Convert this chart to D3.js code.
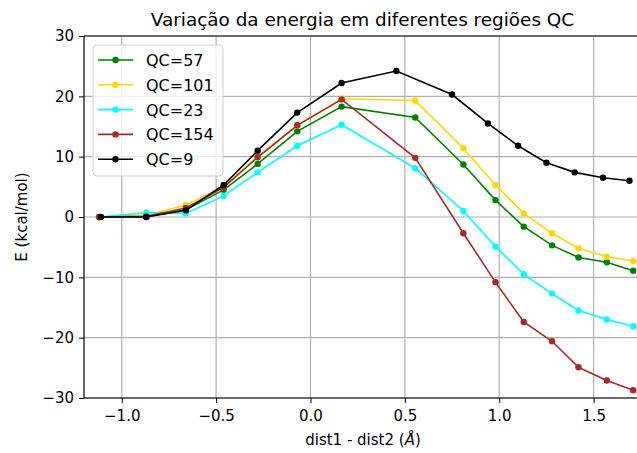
<!DOCTYPE html>
<html>
<head>
    <meta charset="utf-8">
    <script src="https://cdn.jsdelivr.net/npm/d3@7"></script>
    <style>
        body { margin: 0; background: #fff; }
        svg { font-family: "DejaVu Sans", sans-serif; }
    </style>
</head>
<body>
    <svg width="637" height="453"></svg>
    <script>
        // x positions (dist1 - dist2)
        const xMain = [-1.12, -0.87, -0.66, -0.46, -0.28, -0.07, 0.165, 0.555, 0.81, 0.98, 1.13, 1.28, 1.42, 1.57, 1.71]
        const xQC9 = [-1.11, -0.87, -0.66, -0.46, -0.28, -0.07, 0.165, 0.455, 0.75, 0.94, 1.10, 1.25, 1.40, 1.55, 1.69]

        const qc57 = [0, 0.1, 1.2, 4.5, 8.8, 14.2, 18.3, 16.5, 8.7, 2.8, -1.6, -4.7, -6.7, -7.5, -8.9]
        const qc101 = [0, 0.3, 2.0, 5.0, 10.0, 15.2, 19.6, 19.3, 11.4, 5.3, 0.6, -2.7, -5.2, -6.6, -7.3]
        const qc23 = [0, 0.7, 0.6, 3.5, 7.4, 11.8, 15.3, 8.1, 1.0, -4.9, -9.5, -12.7, -15.5, -17.0, -18.1]
        const qc154 = [0, 0.1, 1.5, 4.9, 9.9, 15.2, 19.5, 9.8, -2.7, -10.8, -17.4, -20.6, -24.9, -27.1, -28.7]
        const qc9 = [0, 0, 1.1, 5.3, 11.0, 17.3, 22.2, 24.2, 20.3, 15.5, 11.8, 9.0, 7.4, 6.5, 6.0]

        const labels = ['QC=57', 'QC=101', 'QC=23', 'QC=154', 'QC=9']
        const colors = ['green', 'gold', 'cyan', 'brown', 'black']
        const xTicks = [-1.0, -0.5, 0.0, 0.5, 1.0, 1.5]
        const yTicks = [-30, -20, -10, 0, 10, 20, 30]

        const series = [
            { name: labels[0], xs: xMain, ys: qc57, color: colors[0] },
            { name: labels[1], xs: xMain, ys: qc101, color: colors[1] },
            { name: labels[2], xs: xMain, ys: qc23, color: colors[2] },
            { name: labels[3], xs: xMain, ys: qc154, color: colors[3] },
            { name: labels[4], xs: xQC9, ys: qc9, color: colors[4] }
        ]

        const svg = d3.select('svg')
        const margin = { left: 84, top: 36, right: 0, bottom: 55 }
        const W = 637, H = 453
        const x = d3.scaleLinear().domain([-1.2, 1.73]).range([margin.left, W - margin.right])
        const y = d3.scaleLinear().domain([-30, 30]).range([H - margin.bottom, margin.top])

        const fmtMinus = s => s.replace('-', '\u2212')

        // grid
        svg.append('g').selectAll('line').data(xTicks).join('line')
            .attr('x1', d => x(d)).attr('x2', d => x(d))
            .attr('y1', y(-30)).attr('y2', y(30))
            .attr('stroke', '#b0b0b0').attr('stroke-width', 1.2)
        svg.append('g').selectAll('line').data(yTicks).join('line')
            .attr('x1', x.range()[0]).attr('x2', x.range()[1])
            .attr('y1', d => y(d)).attr('y2', d => y(d))
            .attr('stroke', '#b0b0b0').attr('stroke-width', 1.2)

        // clip
        svg.append('clipPath').attr('id', 'clip').append('rect')
            .attr('x', x.range()[0]).attr('y', y(30))
            .attr('width', x.range()[1] - x.range()[0]).attr('height', y(-30) - y(30))

        const plot = svg.append('g').attr('clip-path', 'url(#clip)')
        const line = d3.line().x(d => x(d[0])).y(d => y(d[1]))

        series.forEach(s => {
            const pts = s.xs.map((v, i) => [v, s.ys[i]])
            plot.append('path').datum(pts)
                .attr('d', line)
                .attr('fill', 'none')
                .attr('stroke', s.color)
                .attr('stroke-width', 1.6)
            plot.append('g').selectAll('circle').data(pts).join('circle')
                .attr('cx', d => x(d[0])).attr('cy', d => y(d[1]))
                .attr('r', 3.2).attr('fill', s.color)
        })

        // axes
        const xAxis = svg.append('g').attr('transform', `translate(0,${y(-30)})`)
            .call(d3.axisBottom(x).tickValues(xTicks).tickSize(5).tickPadding(7).tickFormat(d => fmtMinus(d3.format('.1f')(d))))
        const yAxis = svg.append('g').attr('transform', `translate(${x(-1.2)},0)`)
            .call(d3.axisLeft(y).tickValues(yTicks).tickSize(5).tickPadding(5).tickFormat(d => fmtMinus(String(d))))
        ;[xAxis, yAxis].forEach(a => {
            a.select('.domain').remove()
            a.selectAll('text').attr('font-size', 15).attr('fill', '#000').attr('font-family', 'DejaVu Sans')
            a.selectAll('line').attr('stroke', '#000').attr('stroke-width', 1)
        })

        // spines (left, bottom, top)
        svg.append('line').attr('x1', x(-1.2)).attr('x2', x(-1.2)).attr('y1', y(30)).attr('y2', y(-30))
            .attr('stroke', '#000').attr('stroke-width', 1.2)
        svg.append('line').attr('x1', x(-1.2)).attr('x2', W).attr('y1', y(-30)).attr('y2', y(-30))
            .attr('stroke', '#000').attr('stroke-width', 1.2)
        svg.append('line').attr('x1', x(-1.2)).attr('x2', W).attr('y1', y(30)).attr('y2', y(30))
            .attr('stroke', '#000').attr('stroke-width', 1.2)

        // title and labels
        svg.append('text').attr('x', 362.5).attr('y', 26).attr('text-anchor', 'middle')
            .attr('font-size', 18.4).text('Variação da energia em diferentes regiões QC')
        svg.append('text').attr('x', 363).attr('y', 445).attr('text-anchor', 'middle')
            .attr('font-size', 15)
            .html('dist1 - dist2 (<tspan font-style="italic">Å</tspan>)')
        svg.append('text').attr('transform', 'translate(27,217) rotate(-90)').attr('text-anchor', 'middle')
            .attr('font-size', 15).text('E (kcal/mol)')

        // legend
        const lg = svg.append('g').attr('transform', 'translate(93,45)')
        lg.append('rect').attr('width', 130).attr('height', 131).attr('rx', 4)
            .attr('fill', 'rgba(255,255,255,0.8)').attr('stroke', '#d0d0d0')
        series.forEach((s, i) => {
            const row = lg.append('g').attr('transform', `translate(0,${15 + i * 24.8})`)
            row.append('line').attr('x1', 5).attr('x2', 40).attr('stroke', s.color).attr('stroke-width', 1.6)
            row.append('circle').attr('cx', 22.5).attr('r', 3.2).attr('fill', s.color)
            row.append('text').attr('x', 53).attr('y', 6).attr('font-size', 16).text(s.name)
        })
    </script>
</body>
</html>
